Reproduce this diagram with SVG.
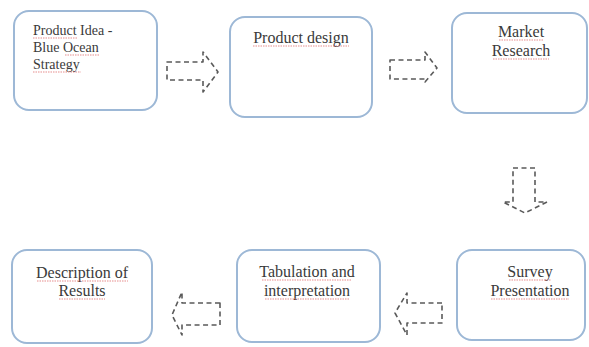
<svg xmlns="http://www.w3.org/2000/svg" width="589" height="347" viewBox="0 0 589 347">
<style>
.box{fill:#ffffff;stroke:#9db8d6;stroke-width:2}
text{font-family:'Liberation Serif','DejaVu Serif','Times New Roman',serif;font-size:16px;fill:#3a3a3a}
.t14{font-size:14px}
.c{text-anchor:middle}
.sq{fill:none;stroke:#e07070;stroke-width:1;stroke-dasharray:1.5 1;opacity:0.8}
.ar{fill:none;stroke:#5a5a5a;stroke-width:1.6;stroke-dasharray:5 3.5;stroke-linejoin:round}
</style>
<rect width="589" height="347" fill="#ffffff"/>
<g id="n1">
<rect class="box" x="14" y="11" width="143" height="99" rx="15"/>
<text class="t14" x="33" y="35" font-family="Liberation Serif, serif">Product Idea -</text>
<text class="t14" x="33" y="52" font-family="Liberation Serif, serif">Blue Ocean</text>
<text class="t14" x="33" y="69" font-family="Liberation Serif, serif">Strategy</text>
<path class="sq" d="M33 38H77M65 55H99M33 72H81"/>
</g>
<g id="n2">
<rect class="box" x="230" y="17" width="142" height="100" rx="15"/>
<text class="c" x="301" y="43" font-family="Liberation Serif, serif">Product design</text>
<path class="sq" d="M253 46H349"/>
</g>
<g id="n3">
<rect class="box" x="452" y="13" width="135" height="100" rx="15"/>
<text class="c" x="521" y="37" font-family="Liberation Serif, serif">Market</text>
<text class="c" x="521" y="56" font-family="Liberation Serif, serif">Research</text>
<path class="sq" d="M499 40H543M493 59H549"/>
</g>
<g id="n4">
<rect class="box" x="457" y="250" width="128" height="90" rx="15"/>
<text class="c" x="530" y="277" font-family="Liberation Serif, serif">Survey</text>
<text class="c" x="530" y="296" font-family="Liberation Serif, serif">Presentation</text>
<path class="sq" d="M509 280H551M491 299H569"/>
</g>
<g id="n5">
<rect class="box" x="237" y="250" width="143" height="92" rx="15"/>
<text class="c" x="307" y="277" font-size="15" font-family="Liberation Serif, serif">Tabulation and</text>
<text class="c" x="307" y="296" font-size="15" font-family="Liberation Serif, serif">interpretation</text>
<path class="sq" d="M262 280H352M265 299H349"/>
</g>
<g id="n6">
<rect class="box" x="12" y="250" width="140" height="93" rx="15"/>
<text class="c" x="82" y="278" font-family="Liberation Serif, serif">Description of</text>
<text class="c" x="82" y="296" font-family="Liberation Serif, serif">Results</text>
<path class="sq" d="M37 281H128M59 299H105"/>
</g>
<g id="connectors">
<path class="ar" d="M167 62H203V52L218 72L203 92V80H167Z"/>
<path class="ar" d="M390 60H425V52L437 68L425 82V79H390Z"/>
<path class="ar" d="M513 168H535V202H547L525 213L503 202H513Z"/>
<path class="ar" d="M442 303H407V293L395 313L407 335V323H442Z"/>
<path class="ar" d="M220 303H182V292L172 315L182 335V325H220Z"/>
</g>
</svg>
